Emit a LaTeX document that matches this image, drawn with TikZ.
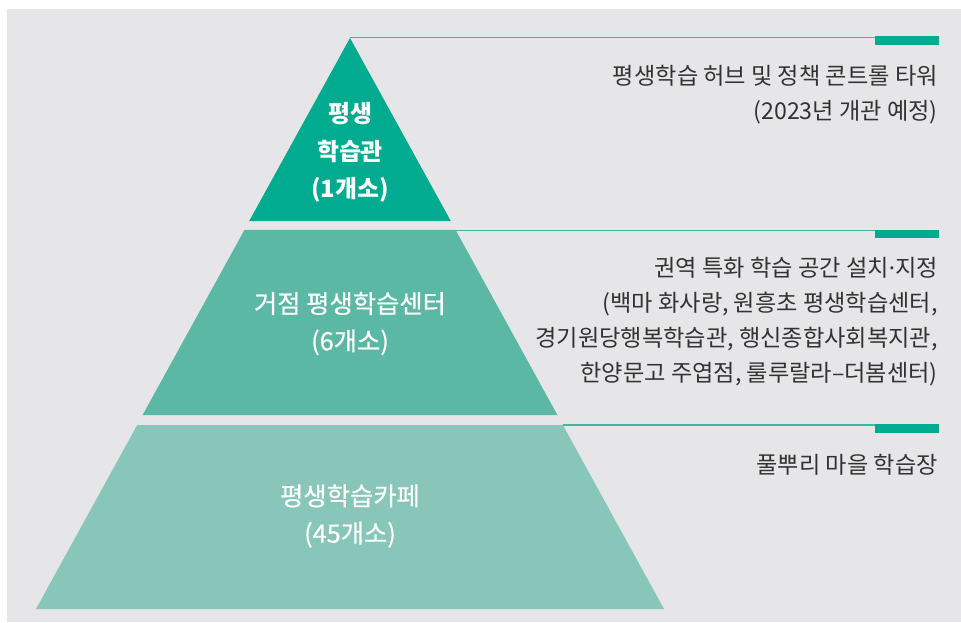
\documentclass[tikz,border=0pt]{standalone}
\usepackage{fontspec}
\setmainfont{Noto Sans CJK KR}
\newfontfamily\latindot{Noto Sans}
\newfontfamily\krmid[FakeBold=0.6]{Noto Sans CJK KR}
\definecolor{bggray}{HTML}{E6E6E8}
\definecolor{topgreen}{HTML}{00AB8F}
\definecolor{midgreen}{HTML}{5BB8A5}
\definecolor{lowgreen}{HTML}{87C6B8}
\definecolor{rulegreen}{HTML}{3DB8A0}
\definecolor{textgray}{HTML}{333333}
\tikzset{
  note/.style={anchor=east, align=right, text=textgray, inner sep=0pt,
    font=\fontsize{16.5}{24.9}\selectfont},
  tier/.style={align=center, text=white, inner sep=0pt,
    font=\krmid\fontsize{18}{26.5}\selectfont},
  marker/.style={fill=topgreen, draw=none}
}
\begin{document}
\begin{tikzpicture}
\useasboundingbox (0,0) rectangle (24.025,15.55);
\fill [bggray] (0.175,0) rectangle (24.025,15.325);
% leader lines
\draw [rulegreen, line width=1.1pt] (8.75,14.61)--(23.475,14.61);
\draw [rulegreen, line width=1.1pt] (8.75,9.79)--(23.475,9.79);
\draw [rulegreen, line width=1.1pt] (14.08,4.93)--(23.475,4.93);
\fill [marker] (21.875,14.64) rectangle (23.475,14.43);
\fill [marker] (21.875,9.8) rectangle (23.475,9.61);
\fill [marker] (21.875,4.94) rectangle (23.475,4.73);
% pyramid
\fill [topgreen] (8.75,14.6)--(11.27,10.025)--(6.23,10.025)--cycle;
\fill [midgreen] (6.11,9.8)--(11.39,9.8)--(13.935,5.175)--(3.565,5.175)--cycle;
\fill [lowgreen] (3.43,4.925)--(14.07,4.925)--(16.6,0.325)--(0.9,0.325)--cycle;
\node [tier, font=\rmfamily\fontsize{17}{26.5}\selectfont\bfseries] (hall) at (8.75,11.74) {평생\\학습관\\(1개소)};
\node [tier] (center) at (8.75,7.46) {거점 평생학습센터\\(6개소)};
\node [tier] (cafe) at (8.75,2.65) {평생학습카페\\(45개소)};
\node [note] (hallnote) at (23.45,13.19) {평생학습 허브 및 정책 콘트롤 타워\\(2023년 개관 예정)};
\node [note] (centernote) at (23.45,7.5) {권역 특화 학습 공간 설치{\latindot ·}지정\\(백마 화사랑, 원흥초 평생학습센터,\\경기원당행복학습관, 행신종합사회복지관,\\한양문고 주엽점, 룰루랄라–더봄센터)};
\node [note] (cafenote) at (23.45,3.92) {풀뿌리 마을 학습장};
\end{tikzpicture}
\end{document}
